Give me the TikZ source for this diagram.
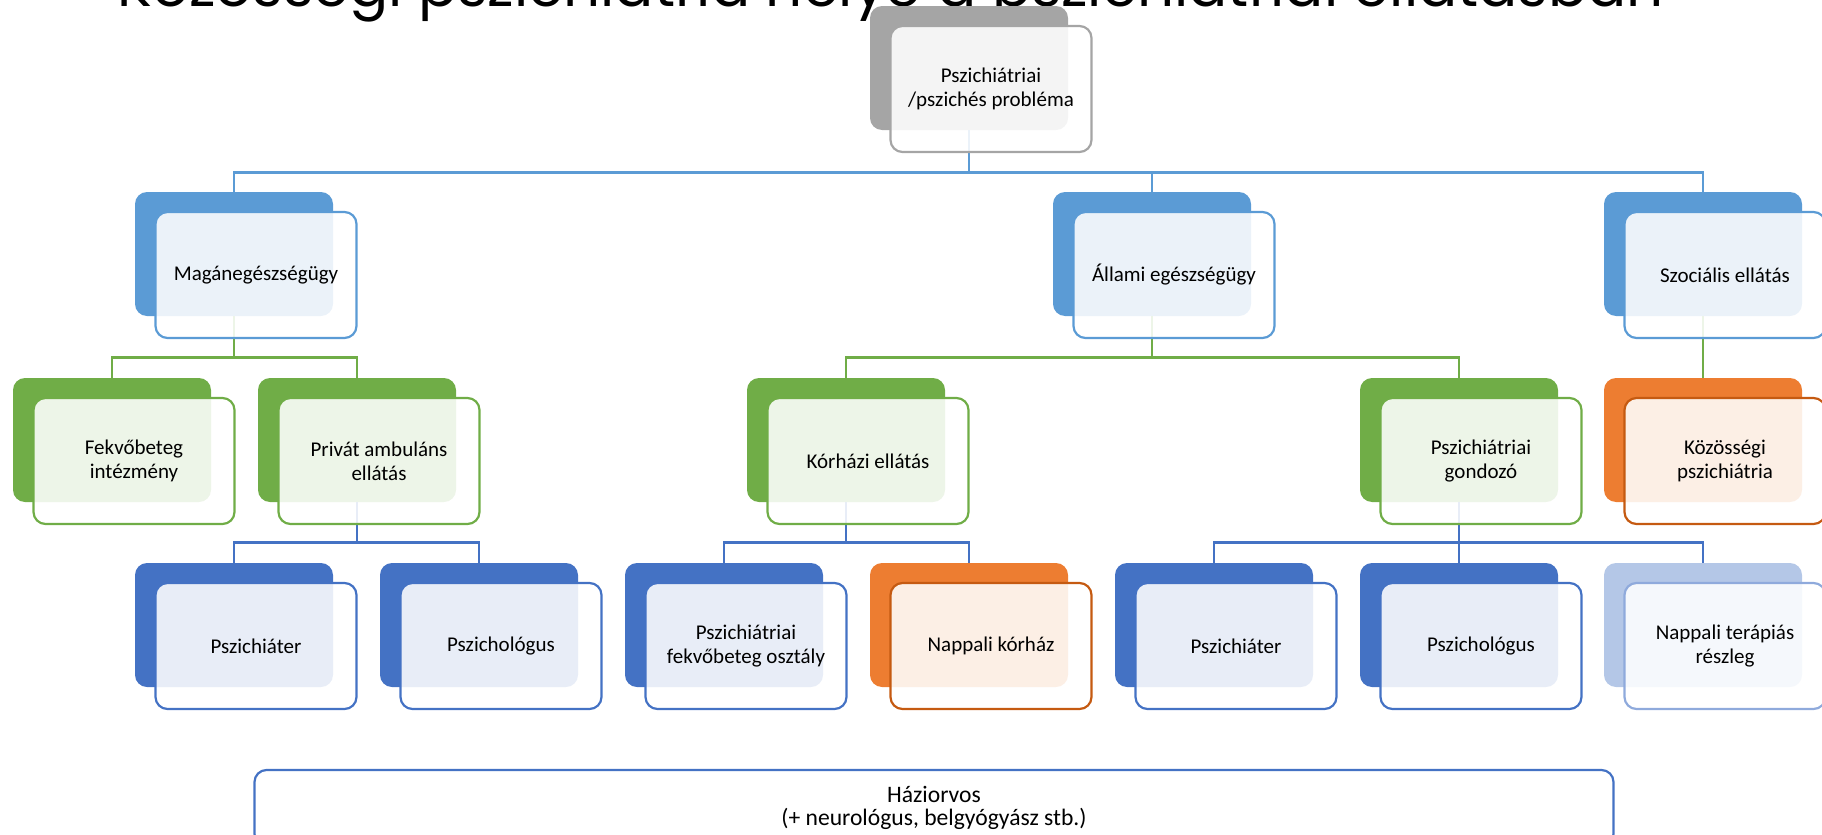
\documentclass[tikz,border=0pt]{standalone}
\usepackage{fontspec}
\setmainfont{Carlito}
\newfontfamily\titlefont{Poppins}
\usepackage{tikz}
\usepackage{xcolor}
\usetikzlibrary{calc}
\definecolor{grayback}{HTML}{A5A5A5}
\definecolor{blueback}{HTML}{5B9BD5}
\definecolor{greenback}{HTML}{70AD47}
\definecolor{orangeback}{HTML}{ED7D31}
\definecolor{orangeline}{HTML}{C55A11}
\definecolor{darkblue}{HTML}{4472C4}
\definecolor{paleblue}{HTML}{B4C7E7}
\definecolor{paleline}{HTML}{8FAADC}
\newcommand{\cardfont}{\fontsize{10.5}{12.2}\selectfont}
\newcommand{\hazifont}{\fontsize{11.8}{11.3}\selectfont}

\begin{document}
\begin{tikzpicture}[x=0.5pt, y=-0.5pt,
    backbox/.style={rounded corners=6pt, minimum width=99pt, minimum height=62pt, inner sep=0pt, fill=#1},
    frontbox/.style={rounded corners=6pt, minimum width=100.5pt, minimum height=63pt, inner sep=2pt,
        draw=#1, line width=1.1pt, fill=white, fill opacity=0.88, text opacity=1,
        align=center, font=\cardfont},
    link/.style={draw=#1, line width=1.2pt}]

    \useasboundingbox (0,0) rectangle (1822,835);

    % Title, cut by the top edge
    \node[anchor=base west, inner sep=0pt, font=\titlefont\fontsize{29}{34}\selectfont] (cim) at (117,6)
        {Közösségi pszichiátria helye a pszichiátriai ellátásban};

    % Back boxes
    \node[backbox=grayback] (prob) at (969,68) {};

    \node[backbox=blueback] (magan) at (234,254) {};
    \node[backbox=blueback] (allami) at (1152,254) {};
    \node[backbox=blueback] (szoc) at (1703,254) {};

    \node[backbox=greenback] (fekvo) at (112,440) {};
    \node[backbox=greenback] (privat) at (357,440) {};
    \node[backbox=greenback] (korhaz) at (846,440) {};
    \node[backbox=greenback] (gondozo) at (1459,440) {};
    \node[backbox=orangeback] (kozos) at (1703,440) {};

    \node[backbox=darkblue] (pszA) at (234,625) {};
    \node[backbox=darkblue] (psyA) at (479,625) {};
    \node[backbox=darkblue] (osztaly) at (724,625) {};
    \node[backbox=orangeback] (napkor) at (969,625) {};
    \node[backbox=darkblue] (pszB) at (1214,625) {};
    \node[backbox=darkblue] (psyB) at (1459,625) {};
    \node[backbox=paleblue] (napter) at (1703,625) {};

    % Connectors from level to level
    \draw[link=blueback] (prob.south) -- ++(0,42) -| (magan.north);
    \draw[link=blueback] (prob.south) -- ++(0,42) -| (allami.north);
    \draw[link=blueback] (prob.south) -- ++(0,42) -| (szoc.north);

    \draw[link=greenback] (magan.south) -- ++(0,41) -| (fekvo.north);
    \draw[link=greenback] (magan.south) -- ++(0,41) -| (privat.north);
    \draw[link=greenback] (allami.south) -- ++(0,41) -| (korhaz.north);
    \draw[link=greenback] (allami.south) -- ++(0,41) -| (gondozo.north);
    \draw[link=greenback] (szoc.south) -- (kozos.north);

    \draw[link=darkblue] (privat.south) -- ++(0,40) -| (pszA.north);
    \draw[link=darkblue] (privat.south) -- ++(0,40) -| (psyA.north);
    \draw[link=darkblue] (korhaz.south) -- ++(0,40) -| (osztaly.north);
    \draw[link=darkblue] (korhaz.south) -- ++(0,40) -| (napkor.north);
    \draw[link=darkblue] (gondozo.south) -- ++(0,40) -| (pszB.north);
    \draw[link=darkblue] (gondozo.south) -- ++(0,40) -| (psyB.north);
    \draw[link=darkblue] (gondozo.south) -- ++(0,40) -| (napter.north);

    % Front boxes with the texts
    \node[frontbox=grayback] (probT) at ($(prob)+(22,21)$) {Pszichiátriai\\/pszichés probléma};

    \node[frontbox=blueback] (maganT) at ($(magan)+(22,21)$) {Magánegészségügy};
    \node[frontbox=blueback] (allamiT) at ($(allami)+(22,21)$) {Állami egészségügy};
    \node[frontbox=blueback] (szocT) at ($(szoc)+(22,21)$) {Szociális ellátás};

    \node[frontbox=greenback] (fekvoT) at ($(fekvo)+(22,21)$) {Fekvőbeteg\\intézmény};
    \node[frontbox=greenback] (privatT) at ($(privat)+(22,21)$) {Privát ambuláns\\ellátás};
    \node[frontbox=greenback] (korhazT) at ($(korhaz)+(22,21)$) {Kórházi ellátás};
    \node[frontbox=greenback] (gondozoT) at ($(gondozo)+(22,21)$) {Pszichiátriai\\gondozó};
    \node[frontbox=orangeline] (kozosT) at ($(kozos)+(22,21)$) {Közösségi\\pszichiátria};

    \node[frontbox=darkblue] (pszAT) at ($(pszA)+(22,21)$) {Pszichiáter};
    \node[frontbox=darkblue] (psyAT) at ($(psyA)+(22,21)$) {Pszichológus};
    \node[frontbox=darkblue] (osztalyT) at ($(osztaly)+(22,21)$) {Pszichiátriai\\fekvőbeteg osztály};
    \node[frontbox=orangeline] (napkorT) at ($(napkor)+(22,21)$) {Nappali kórház};
    \node[frontbox=darkblue] (pszBT) at ($(pszB)+(22,21)$) {Pszichiáter};
    \node[frontbox=darkblue] (psyBT) at ($(psyB)+(22,21)$) {Pszichológus};
    \node[frontbox=paleline] (napterT) at ($(napter)+(22,21)$) {Nappali terápiás\\részleg};

    % Bottom box, cut by the lower edge
    \node[draw=darkblue, line width=1.1pt, rounded corners=6pt, fill=white,
        minimum width=679.5pt, minimum height=38pt, align=center, font=\hazifont] (hazi) at (934,808)
        {Háziorvos\\(+ neurológus, belgyógyász stb.)};

\end{tikzpicture}
\end{document}
